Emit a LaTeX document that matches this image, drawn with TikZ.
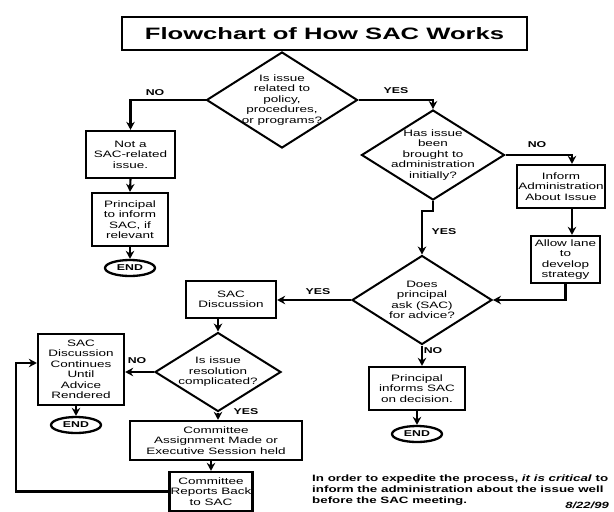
\documentclass[tikz,border=0pt]{standalone}
\usepackage{fontspec}
\setmainfont{Liberation Sans}[FakeStretch=1.45]
\newfontfamily\titlefont{Liberation Sans}[FakeStretch=1.55]
\usetikzlibrary{shapes.geometric,arrows.meta,calc}
\begin{document}
\begin{tikzpicture}[x=1pt,y=-1pt,
  box/.style={draw, line width=2.3pt, align=center, inner sep=1pt,
    font=\fontsize{9.3}{10.5}\selectfont},
  dia/.style={draw, diamond, line width=2pt, inner sep=0pt},
  dtext/.style={align=center, font=\fontsize{9.3}{10.5}\selectfont},
  endnode/.style={draw, ellipse, line width=2.3pt, minimum width=50pt,
    minimum height=16pt, inner sep=0pt, font=\bfseries\fontsize{8.5}{9}\selectfont},
  lbl/.style={font=\bfseries\fontsize{8.5}{9}\selectfont},
  arr/.style={line width=2.1pt, -{Stealth[length=8pt,width=8.5pt]}}]
\useasboundingbox (0,0) rectangle (614,512);
% title
\node[draw, line width=2.3pt, minimum width=405pt, minimum height=33pt,
  font=\titlefont\bfseries\fontsize{16.5}{18}\selectfont] (title) at (324.5,33.5) {Flowchart of How SAC Works};
% decisions
\node[dia, minimum width=151pt, minimum height=96pt,
  label={[dtext]center:{Is issue\\related to\\policy,\\procedures,\\or programs?}}] (d1) at (282,100) {};
\node[dia, minimum width=143pt, minimum height=90pt,
  label={[dtext]center:{Has issue\\been\\brought to\\administration\\initially?}}] (d2) at (433,155) {};
\node[dia, minimum width=140pt, minimum height=89pt,
  label={[dtext]center:{Does\\principal\\ask (SAC)\\for advice?}}] (d3) at (422,300) {};
\node[dia, minimum width=126pt, minimum height=79pt,
  label={[dtext]center:{Is issue\\resolution\\complicated?}}] (d4) at (218,372) {};
% boxes
\node[box, minimum width=89pt, minimum height=47pt] (notsac) at (130.5,154.5) {Not a\\SAC-related\\issue.};
\node[box, minimum width=76pt, minimum height=53pt] (princ1) at (130,219.5) {Principal\\to inform\\SAC, if\\relevant};
\node[endnode] (end1) at (130,268) {END};
\node[box, minimum width=88pt, minimum height=43pt] (inform) at (561,186.5) {Inform\\Administration\\About Issue};
\node[box, minimum width=69pt, minimum height=47pt] (allow) at (565.5,259.5) {Allow lane\\to\\develop\\strategy};
\node[box, minimum width=90pt, minimum height=37pt] (sacdisc) at (231,299.5) {SAC\\Discussion};
\node[box, minimum width=96pt, minimum height=43pt] (princ2) at (417,388.5) {Principal\\informs SAC\\on decision.};
\node[endnode] (end2) at (417,434) {END};
\node[box, minimum width=86pt, minimum height=71pt] (cont) at (81,369.5) {SAC\\Discussion\\Continues\\Until\\Advice\\Rendered};
\node[endnode] (end3) at (76,425) {END};
\node[box, minimum width=172pt, minimum height=39pt] (assign) at (216,440.5) {Committee\\Assignment Made or\\Executive Session held};
\node[box, minimum width=78pt, minimum height=39pt] (report) at (211,491.5) {Committee\\Reports Back\\to SAC};
% connectors
\draw[arr] (d1.west) -| (notsac.north);
\draw[arr] (d1.east) -| (d2.north);
\draw[arr] (notsac.south) -- (princ1.north);
\draw[arr] (princ1.south) -- (end1.north);
\draw[arr] (d2.east) -| ([xshift=11pt]inform.north);
\draw[arr] ([xshift=11pt]inform.south) -- ([xshift=6.5pt]allow.north);
\draw[arr] (allow.south) |- (d3.east);
\draw[arr] (d2.south) -- ++(0,10) -| (d3.north);
\draw[arr] (d3.west) -- (sacdisc.east |- d3.west);
\draw[arr] (d3.south) -- (princ2.north -| d3.south);
\draw[arr] (princ2.south) -- (end2.north);
\draw[arr] (sacdisc.south -| d4.north) -- (d4.north);
\draw[arr] (d4.west) -- (cont.east |- d4.west);
\draw[arr] (cont.south -| end3.north) -- (end3.north);
\draw[arr] (d4.south) -- (assign.north -| d4.south);
\draw[arr] (assign.south -| report.north) -- (report.north);
\coordinate (loopc) at (16,491.5);
\draw[arr] (report.west) -- (loopc) |- ([yshift=6.5pt]cont.west);
% labels
\node[lbl] (lno1) at (155,93) {NO};
\node[lbl] (lyes1) at (396,91) {YES};
\node[lbl] (lno2) at (537,145) {NO};
\node[lbl] (lyes2) at (444,232) {YES};
\node[lbl] (lyes3) at (318,292) {YES};
\node[lbl] (lno3) at (433,351) {NO};
\node[lbl] (lno4) at (137,361) {NO};
\node[lbl] (lyes4) at (246,412) {YES};
% note
\node[anchor=north west, align=left, inner sep=0pt,
  font=\bfseries\fontsize{9.2}{11}\selectfont] (note) at (312,475)
  {In order to expedite the process, \textit{it is critical} to\\inform the administration about the issue well\\before the SAC meeting.};
\node[anchor=east, inner sep=0pt, font=\bfseries\itshape\fontsize{9}{10}\selectfont] (date) at (609,505) {8/22/99};
\end{tikzpicture}
\end{document}
